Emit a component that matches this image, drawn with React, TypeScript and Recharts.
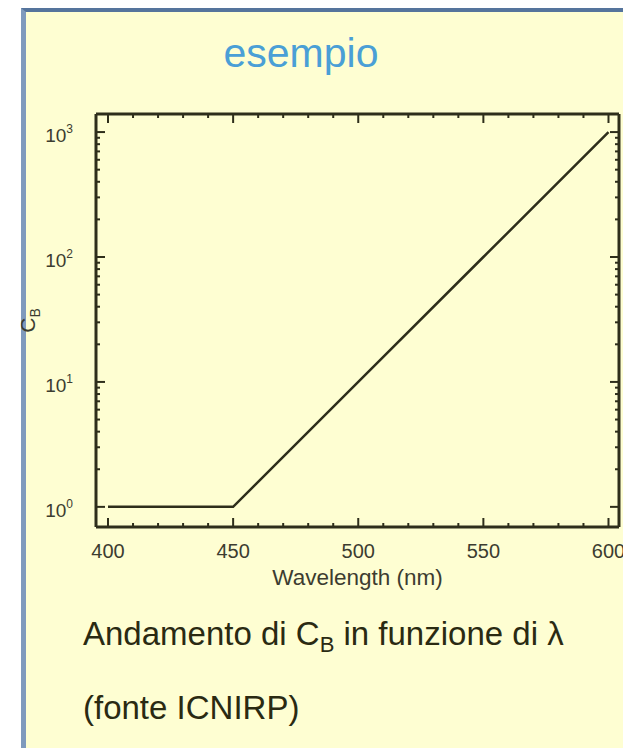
import React from 'react';
import { LineChart, Line, XAxis, YAxis } from 'recharts';

// ---- data ----
const wavelengths = [400, 450, 500, 550, 600];
const cbValues = [1, 1, 10, 100, 1000];

const xTicks = [400, 410, 420, 430, 440, 450, 460, 470, 480, 490, 500, 510, 520, 530, 540, 550, 560, 570, 580, 590, 600];
const xMajorTicks = [400, 450, 500, 550, 600];
const yTicks = [1, 2, 3, 4, 5, 6, 7, 8, 9, 10, 20, 30, 40, 50, 60, 70, 80, 90, 100, 200, 300, 400, 500, 600, 700, 800, 900, 1000];
const yMajorTicks = [1, 10, 100, 1000];

const xDomain = [395.2, 604.2];
const yDomain = [0.69, 1395];

const data = wavelengths.map((wl, i) => ({ wl, cb: cbValues[i] }));

const INK = '#2e2e1b';
const TXT = '#3c3c30';
const FONT = '"Liberation Sans", Arial, Helvetica, sans-serif';

const MAJ = 9;
const MIN = 4;

const BottomTick = (props: any) => {
  const { x, y, payload } = props;
  const v = payload.value;
  const major = xMajorTicks.includes(v);
  return (
    <g>
      <line x1={x} y1={y} x2={x} y2={y - (major ? MAJ : MIN)} stroke={INK} strokeWidth={2} />
      {major && (
        <text x={x} y={y + 31} textAnchor="middle" fontSize={20} fill={TXT} fontFamily={FONT}>
          {v}
        </text>
      )}
    </g>
  );
};

const TopTick = (props: any) => {
  const { x, y, payload } = props;
  const major = xMajorTicks.includes(payload.value);
  return <line x1={x} y1={y} x2={x} y2={y + (major ? MAJ : MIN)} stroke={INK} strokeWidth={2} />;
};

const LeftTick = (props: any) => {
  const { x, y, payload } = props;
  const v = payload.value;
  const major = yMajorTicks.includes(v);
  const exp = Math.round(Math.log10(v));
  return (
    <g>
      <line x1={x} y1={y} x2={x + (major ? MAJ : MIN)} y2={y} stroke={INK} strokeWidth={2} />
      {major && (
        <text x={x - 23} y={y + 10} textAnchor="end" fontSize={19} fill={TXT} fontFamily={FONT}>
          <tspan>10</tspan>
          <tspan dy={-9} fontSize={12}>{exp}</tspan>
        </text>
      )}
    </g>
  );
};

const RightTick = (props: any) => {
  const { x, y, payload } = props;
  const major = yMajorTicks.includes(payload.value);
  return <line x1={x} y1={y} x2={x - (major ? MAJ : MIN)} y2={y} stroke={INK} strokeWidth={2} />;
};

const XLabel = (props: any) => {
  const vb = props.viewBox || {};
  return (
    <text x={vb.x + vb.width / 2} y={vb.y + 58} textAnchor="middle" fontSize={22.5} fill={TXT} fontFamily={FONT}>
      Wavelength (nm)
    </text>
  );
};

const YLabel = (props: any) => {
  const vb = props.viewBox || {};
  const cx = vb.x - 60;
  const cy = vb.y + vb.height / 2;
  return (
    <text x={cx} y={cy} transform={`rotate(-90 ${cx} ${cy})`} textAnchor="middle" fontSize={21} fill={TXT} fontFamily={FONT}>
      <tspan>C</tspan>
      <tspan dy={5} fontSize={14}>B</tspan>
    </text>
  );
};

export default function App() {
  return (
    <div style={{ position: 'absolute', left: 0, top: 0, width: 623, height: 748, background: '#ffffff', overflow: 'hidden' }}>
      <div
        style={{
          position: 'absolute',
          left: 21,
          top: 8,
          width: 640,
          height: 760,
          background: '#fefed2',
          borderLeft: '5px solid #7f9abd',
          borderTop: '4px solid #55749c',
          boxSizing: 'border-box',
        }}
      />
      <svg width={623} height={748} style={{ position: 'absolute', left: 0, top: 0 }}>
        <text x={301} y={67} textAnchor="middle" fontSize={41} fill="#4a9fd6" fontFamily={FONT}>
          esempio
        </text>
        <text x={83} y={645} fontSize={33} fill="#2a2a12" fontFamily={FONT}>
          <tspan>Andamento di C</tspan>
          <tspan dy={7} fontSize={22}>B</tspan>
          <tspan dy={-7}> in funzione di λ</tspan>
        </text>
        <text x={83} y={719} fontSize={33} fill="#2a2a12" fontFamily={FONT}>
          (fonte ICNIRP)
        </text>
      </svg>
      <LineChart
        width={623}
        height={748}
        data={data}
        margin={{ top: 113, right: 3, bottom: 220, left: 95 }}
        style={{ position: 'absolute', left: 0, top: 0 }}
      >
        <XAxis
          xAxisId="bottom"
          dataKey="wl"
          type="number"
          domain={xDomain}
          allowDataOverflow
          ticks={xTicks}
          interval={0}
          height={1}
          tickSize={0}
          tickMargin={0}
          tickLine={false}
          tick={<BottomTick />}
          axisLine={{ stroke: INK, strokeWidth: 3 }}
          label={<XLabel />}
        />
        <XAxis
          xAxisId="top"
          orientation="top"
          dataKey="wl"
          type="number"
          domain={xDomain}
          allowDataOverflow
          ticks={xTicks}
          interval={0}
          height={1}
          tickSize={0}
          tickMargin={0}
          tickLine={false}
          tick={<TopTick />}
          axisLine={{ stroke: INK, strokeWidth: 3 }}
        />
        <YAxis
          yAxisId="left"
          scale="log"
          type="number"
          domain={yDomain}
          allowDataOverflow
          ticks={yTicks}
          interval={0}
          width={1}
          tickSize={0}
          tickMargin={0}
          tickLine={false}
          tick={<LeftTick />}
          axisLine={{ stroke: INK, strokeWidth: 3 }}
          label={<YLabel />}
        />
        <YAxis
          yAxisId="right"
          orientation="right"
          scale="log"
          type="number"
          domain={yDomain}
          allowDataOverflow
          ticks={yTicks}
          interval={0}
          width={1}
          tickSize={0}
          tickMargin={0}
          tickLine={false}
          tick={<RightTick />}
          axisLine={{ stroke: INK, strokeWidth: 3 }}
        />
        <Line
          xAxisId="bottom"
          yAxisId="left"
          dataKey="cb"
          type="linear"
          stroke={INK}
          strokeWidth={2.5}
          dot={false}
          isAnimationActive={false}
        />
      </LineChart>
    </div>
  );
}
